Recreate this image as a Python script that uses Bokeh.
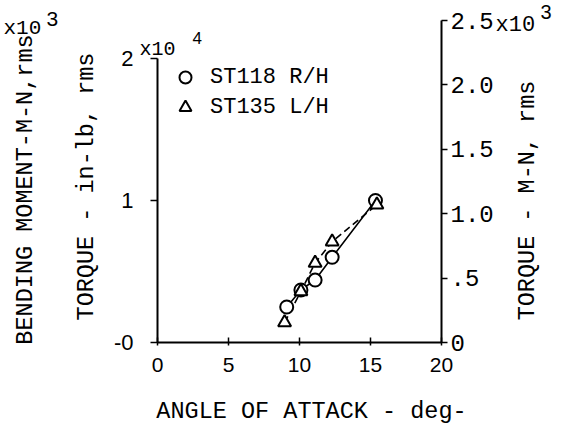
import math
from bokeh.plotting import figure
from bokeh.models import (Range1d, LinearAxis, FixedTicker, Label, Legend, LegendItem)
from bokeh.embed import file_html
from bokeh.resources import INLINE

# ---- data ----
alpha_st118 = [9.1, 10.1, 11.1, 12.3, 15.35]
torque_st118 = [0.25, 0.37, 0.44, 0.60, 1.00]      # x10^4 in-lb, rms
alpha_st135 = [8.95, 10.1, 11.1, 12.3, 15.45]
torque_st135 = [0.14, 0.36, 0.56, 0.71, 0.97]      # x10^4 in-lb, rms
series_names = ["ST118 R/H", "ST135 L/H"]
x_ticks = [0, 5, 10, 15, 20]
left_ticks = [0, 1, 2]
left_tick_labels = {0: "-0", 1: "1", 2: "2"}
right_ticks = [0, 0.5, 1.0, 1.5, 2.0, 2.5]
right_tick_labels = {0: "0", 0.5: ".5", 1.0: "1.0", 1.5: "1.5", 2.0: "2.0", 2.5: "2.5"}

# ---- layout (frame covers the whole canvas; axes drawn at fixed locations) ----
W, H = 564, 427
X0PX, X20PX = 157, 441        # pixel of x=0 and x=20
Y0PX = 342                    # pixel of y=0
px_per_x = (X20PX - X0PX) / 20.0
px_per_y = px_per_x * 10.0    # 1 unit (x10^4 in-lb)
RTOP_PX = 20                  # pixel of 2.5 on right axis
px_per_r = (Y0PX - RTOP_PX) / 2.5

def dx(px):
    return (px - X0PX) / px_per_x

def dy(py):
    return (Y0PX - py) / px_per_y

MONO = "Liberation Mono"
SANS = "Liberation Sans"

p = figure(width=W, height=H, output_backend="svg", toolbar_location=None,
           x_range=Range1d(dx(0), dx(W)), y_range=Range1d(dy(H), dy(0)),
           min_border=0)
p.min_border_left = p.min_border_right = p.min_border_top = p.min_border_bottom = 0
p.xgrid.visible = False
p.ygrid.visible = False
p.outline_line_color = None
p.background_fill_color = "white"
p.border_fill_color = "white"

# bottom axis
xa = p.xaxis[0]
xa.fixed_location = 0
xa.bounds = (0, 20)
xa.ticker = FixedTicker(ticks=x_ticks)
xa.axis_line_width = 2
xa.major_tick_in = 5
xa.major_tick_out = 3
xa.major_tick_line_width = 1.5
xa.minor_tick_line_color = None
xa.major_label_text_font = SANS
xa.major_label_text_font_size = "21px"
xa.major_label_text_color = "black"
xa.major_label_standoff = 12

# left axis
ya = p.yaxis[0]
ya.fixed_location = 0
ya.ticker = FixedTicker(ticks=left_ticks)
ya.major_label_overrides = left_tick_labels
ya.bounds = (0, 2)
ya.axis_line_width = 2
ya.major_tick_in = 0
ya.major_tick_out = 7
ya.major_tick_line_width = 1.5
ya.minor_tick_line_color = None
ya.major_label_text_font = SANS
ya.major_label_text_font_size = "22px"
ya.major_label_text_color = "black"
ya.major_label_standoff = 17

# right axis (N-m x10^3)
p.extra_y_ranges = {"nm": Range1d((Y0PX - H) / px_per_r, Y0PX / px_per_r)}
ra = LinearAxis(y_range_name="nm", ticker=FixedTicker(ticks=right_ticks))
ra.fixed_location = 20
ra.bounds = (0, 2.5)
ra.major_label_overrides = right_tick_labels
ra.axis_line_width = 2
ra.major_tick_in = 0
ra.major_tick_out = 6
ra.major_tick_line_width = 1.5
ra.minor_tick_line_color = None
ra.major_label_text_font = MONO
ra.major_label_text_font_size = "24px"
ra.major_label_text_color = "black"
ra.major_label_standoff = 3
p.add_layout(ra, "right")

# data
p.line(alpha_st118, torque_st118, line_color="black", line_width=1.6)
p.line(alpha_st135, torque_st135, line_color="black", line_width=1.6, line_dash="7 4")
r_c = p.scatter(alpha_st118, torque_st118, marker="circle", size=13,
                fill_color="white", line_color="black", line_width=2)
r_t = p.scatter(alpha_st135, torque_st135, marker="triangle", size=13,
                fill_color="white", line_color="black", line_width=2)

leg = Legend(items=[LegendItem(label=series_names[0], renderers=[r_c]),
                    LegendItem(label=series_names[1], renderers=[r_t])],
             location=(170, 305), padding=0, margin=0, spacing=0,
             glyph_width=30, glyph_height=30, label_height=30, label_standoff=10,
             label_text_font=MONO, label_text_font_size="22px", label_text_color="black",
             border_line_color=None, background_fill_alpha=0)
p.add_layout(leg, "center")

def lab(text, px, py, size, font=MONO, angle=0.0, align="left", baseline="alphabetic"):
    p.add_layout(Label(x=dx(px), y=dy(py), text=text, angle=angle,
                       text_font=font, text_font_size=size, text_color="black",
                       text_align=align, text_baseline=baseline))

# exponent labels
lab("x10", 3, 28, "21px")
lab("3", 46, 18, "21px", font=SANS)
lab("x10", 139, 49, "20px")
lab("4", 192, 37, "17px", font=SANS)
lab("x10", 495, 25, "22px")
lab("3", 540, 11, "20px", font=SANS)

# axis titles
lab("BENDING MOMENT-M-N,rms", 25, 189, "23.5px", angle=math.pi / 2, align="center", baseline="middle")
lab("TORQUE - in-lb, rms", 86, 186, "23.5px", angle=math.pi / 2, align="center", baseline="middle")
lab("TORQUE - M-N, rms", 527, 200, "23.5px", angle=math.pi / 2, align="center", baseline="middle")
lab("ANGLE OF ATTACK - deg-", 311, 411, "23.5px", align="center")

open("out.html", "w").write(file_html(p, INLINE))
